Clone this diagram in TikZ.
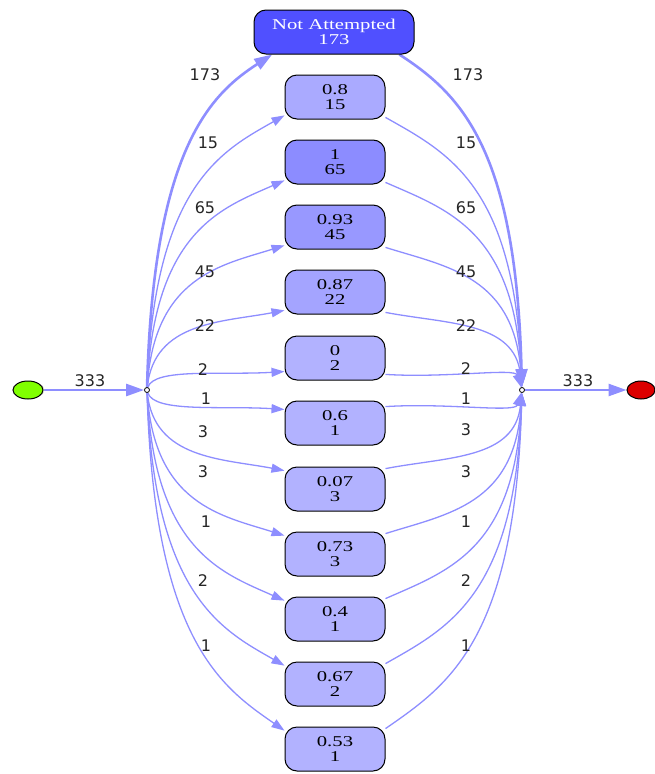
\documentclass[tikz,border=0pt]{standalone}
\usepackage{fontspec}
\setmainfont{Liberation Serif}
\newfontfamily\boxfont[FakeStretch=1.38]{Liberation Serif}
\newfontfamily\lblfont{DejaVu Sans}
\usetikzlibrary{arrows.meta,calc,backgrounds,shapes.geometric}
\definecolor{edgec}{RGB}{142,142,255}
\definecolor{naC}{RGB}{80,80,255}
\definecolor{cA}{RGB}{140,140,255}
\definecolor{cB}{RGB}{152,152,255}
\definecolor{cC}{RGB}{164,164,255}
\definecolor{cD}{RGB}{170,170,255}
\definecolor{cL}{RGB}{178,178,255}
\definecolor{startC}{RGB}{128,255,0}
\definecolor{endC}{RGB}{220,0,0}
\begin{document}
\begin{tikzpicture}[x=1pt,y=-1pt,
  box/.style={draw=black, line width=1pt, rounded corners=12pt, minimum width=100pt, minimum height=44pt, inner sep=0pt, align=center, font=\boxfont\fontsize{15}{15.5}\selectfont},
  lbl/.style={font=\lblfont\fontsize{16}{16}\selectfont, inner sep=0pt, text=black!85},
  dot/.style={circle, draw=black, fill=white, line width=0.8pt, minimum size=5pt, inner sep=0pt},
  edge/.style={draw=edgec, line width=1.3pt, -{Triangle[length=13pt,width=9pt]}},
  thickedge/.style={draw=edgec, line width=2.6pt, -{Triangle[length=18pt,width=12pt]}},
]
\useasboundingbox (0,0) rectangle (654,774);
% terminals
\node[circle, draw=gray!35, fill=yellow!6, minimum size=12pt, inner sep=0pt] (ghost) at (38,390) {};
\node[ellipse, draw=black, line width=1pt, fill=startC, minimum width=30pt, minimum height=18pt, inner sep=0pt] (start) at (28,390) {};
\node[ellipse, draw=black, line width=1pt, fill=endC, minimum width=28pt, minimum height=18pt, inner sep=0pt] (end) at (641,390) {};
\node[dot] (sp) at (147,390) {};
\node[dot] (jn) at (522,390) {};
% boxes
\node[box, fill=naC, text=white, minimum width=160pt] (na) at (334,32) {Not Attempted\\173};
\foreach \n/\y/\a/\b/\c in {b1/97/0.8/15/cD, b2/162/1/65/cA, b3/227/0.93/45/cB, b4/292/0.87/22/cC,
  b5/358/0/2/cL, b6/423/0.6/1/cL, b7/489/0.07/3/cL, b8/554/0.73/3/cL, b9/619/0.4/1/cL,
  b10/684/0.67/2/cL, b11/749/0.53/1/cL}
  \node[box, fill=\c] (\n) at (335,\y) {\a\\\b};
% edge labels
\node[lbl] (l0) at (90,381) {333};
\node[lbl] (r0) at (578,381) {333};
\foreach \i/\x/\y/\t in {1/205/75/173, 2/208/143/15, 3/205/208/65, 4/205/272/45, 5/205/326/22,
  6/203/370/2, 7/206/399/1, 8/203/432/3, 9/203/472/3, 10/206/522/1, 11/203/581/2, 12/206/646/1}
  \node[lbl] (ll\i) at (\x,\y) {\t};
\foreach \i/\x/\y/\t in {1/468/75/173, 2/466/143/15, 3/466/208/65, 4/466/272/45, 5/466/326/22,
  6/466/369/2, 7/466/399/1, 8/466/430/3, 9/466/472/3, 10/466/522/1, 11/466/581/2, 12/466/646/1}
  \node[lbl] (rl\i) at (\x,\y) {\t};
% edges
\begin{scope}[on background layer]
  \draw[thickedge] (start) -- (sp);
  \draw[thickedge] (jn) -- (end);
  \draw[thickedge] (sp) .. controls ($(sp)+(6,-240)$) and ($(na.200)+(-62,40)$) .. (na.200);
  \draw[thickedge] (na.-19) .. controls ($(na.-19)+(62,40)$) and ($(jn)+(-6,-240)$) .. (jn);
  \foreach \n/\y/\ia/\oa in {b1/97/200/-22, b2/162/200/-22, b3/227/200/-22, b4/292/200/-22,
    b5/358/195/-18, b6/423/165/18, b7/489/160/22, b8/554/160/22, b9/619/160/22,
    b10/684/160/22, b11/749/160/22}{
    \pgfmathsetmacro\dy{\y-390}
    \draw[edge] (sp) .. controls ($(sp)+(7,{0.7*\dy})$) and ($(\n.\ia)+(-62,{-0.12*\dy})$) .. (\n.\ia);
    \draw[edge] (\n.\oa) .. controls ($(\n.\oa)+(62,{-0.12*\dy})$) and ($(jn)+(-7,{0.7*\dy})$) .. (jn);
  }
\end{scope}
\end{tikzpicture}
\end{document}
